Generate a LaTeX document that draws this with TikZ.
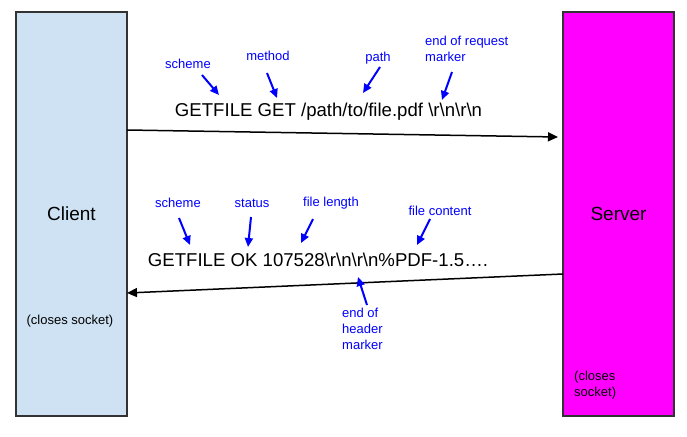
\documentclass[tikz,border=0pt]{standalone}
\usepackage{fontspec}
\setmainfont{Liberation Sans}
\usetikzlibrary{arrows.meta}
\definecolor{clientblue}{HTML}{CFE2F3}
\definecolor{servermagenta}{HTML}{FF00FF}

\begin{document}
\begin{tikzpicture}[x=1pt,y=-1pt,
  hostbox/.style={draw=black!80,line width=1.2pt,minimum width=111pt,
    minimum height=404pt,inner sep=0pt,font=\fontsize{19}{23}\selectfont},
  msg/.style={font=\fontsize{18.6}{22}\selectfont,inner sep=0pt},
  note/.style={font=\fontsize{13}{16}\selectfont,inner sep=0pt,align=left},
  tag/.style={note,text=blue},
  wire/.style={-{Triangle[length=10pt,width=9pt]},line width=1.5pt},
  pointer/.style={-{Triangle[length=9pt,width=8pt]},draw=blue,line width=2pt}]
  \def\crlf{\textbackslash r\textbackslash n}
  \useasboundingbox (0,0) rectangle (687,436);

  \node[hostbox,fill=clientblue]    (client) at (71.5,214)  {Client};
  \node[hostbox,fill=servermagenta] (server) at (618.5,214) {Server};

  \node[note]             (cclose) at (70,321)  {(closes socket)};
  \node[note,anchor=west] (sclose) at (574,385) {(closes\\socket)};

  % request
  \node[msg] (req) at (328.5,112) {GETFILE GET /path/to/file.pdf \crlf\crlf};
  \node[tag] (rqscheme) at (188,64) {scheme};
  \node[tag] (rqmethod) at (268,56) {method};
  \node[tag] (rqpath)   at (378,58) {path};
  \node[tag,anchor=west] (rqend) at (425,49) {end of request\\marker};

  \coordinate (reqout) at (127,130);
  \coordinate (reqin)  at (558,137);
  \draw[wire] (reqout) -- (reqin);

  \coordinate (rqscheme-t) at (202,75);  \coordinate (rqscheme-h) at (219,95);
  \coordinate (rqmethod-t) at (267,73);  \coordinate (rqmethod-h) at (277,98);
  \coordinate (rqpath-t)   at (380,67);  \coordinate (rqpath-h)   at (363,93);
  \coordinate (rqend-t)    at (452,72);  \coordinate (rqend-h)    at (442,100);

  \draw[pointer] (rqscheme-t) -- (rqscheme-h);
  \draw[pointer] (rqmethod-t) -- (rqmethod-h);
  \draw[pointer] (rqpath-t)   -- (rqpath-h);
  \draw[pointer] (rqend-t)    -- (rqend-h);

  % response
  \node[msg] (resp) at (318,260) {GETFILE OK 107528\crlf\crlf\%PDF-1.5….};
  \node[tag] (rsscheme)  at (178,203) {scheme};
  \node[tag] (rsstatus)  at (252,203) {status};
  \node[tag] (rslength)  at (331,203) {file length};
  \node[tag] (rscontent) at (440,211) {file content};
  \node[tag,anchor=west] (rsend) at (342,329) {end of\\header\\marker};

  \coordinate (respout) at (563,274);
  \coordinate (respin)  at (127,293);
  \draw[wire] (respout) -- (respin);

  \coordinate (rsscheme-t)  at (179,218); \coordinate (rsscheme-h)  at (190,245);
  \coordinate (rsstatus-t)  at (251,217); \coordinate (rsstatus-h)  at (248,247);
  \coordinate (rslength-t)  at (313,219); \coordinate (rslength-h)  at (301,243);
  \coordinate (rscontent-t) at (430,219); \coordinate (rscontent-h) at (417,245);
  \coordinate (rsend-t)     at (367,305); \coordinate (rsend-h)     at (358,277);

  \draw[pointer] (rsscheme-t)  -- (rsscheme-h);
  \draw[pointer] (rsstatus-t)  -- (rsstatus-h);
  \draw[pointer] (rslength-t)  -- (rslength-h);
  \draw[pointer] (rscontent-t) -- (rscontent-h);
  \draw[pointer] (rsend-t)     -- (rsend-h);
\end{tikzpicture}
\end{document}
